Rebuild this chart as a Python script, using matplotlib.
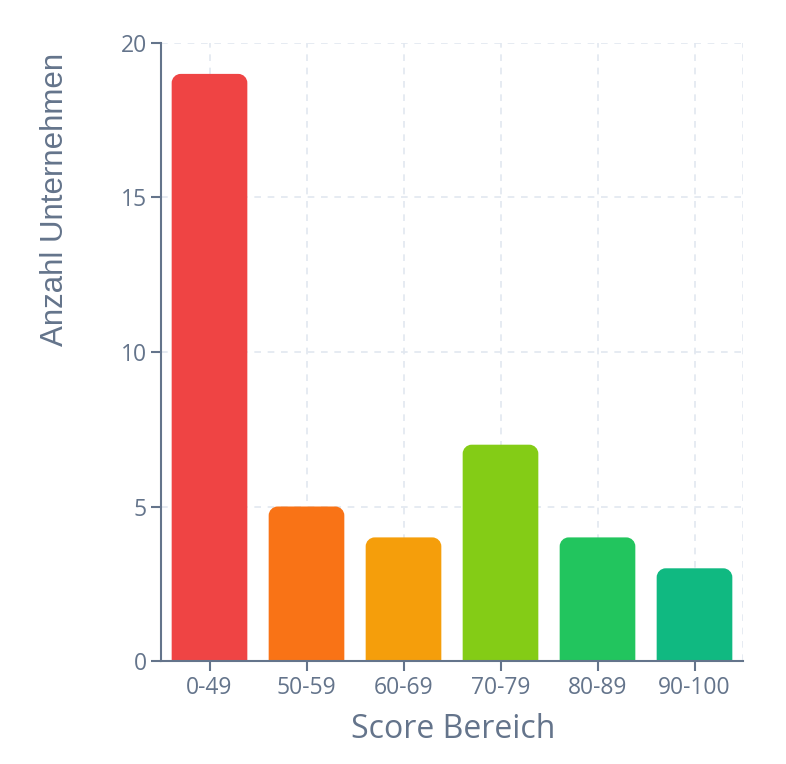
import matplotlib
matplotlib.use("Agg")
import matplotlib.pyplot as plt
from matplotlib.path import Path
from matplotlib.patches import PathPatch

categories = ["0-49", "50-59", "60-69", "70-79", "80-89", "90-100"]
counts = [19, 5, 4, 7, 4, 3]
colors = ["#ef4444", "#f97316", "#f59e0b", "#84cc16", "#22c55e", "#10b981"]
yticks = [0, 5, 10, 15, 20]

axis_col = "#64748b"
grid_col = "#e2e8f0"

W, H = 786, 764
fig = plt.figure(figsize=(W / 100, H / 100), dpi=100)
L, R, T, B = 161, 743, 43, 661
ax = fig.add_axes([L / W, 1 - B / H, (R - L) / W, (B - T) / H])

n = len(categories)
ax.set_xlim(-0.5, n - 0.5)
ax.set_ylim(0, 20)

px_x = (R - L) / n
px_y = (B - T) / 20.0
r_px = 9
bar_w = 0.78

# grid
for y in yticks:
    ax.axhline(y, color=grid_col, lw=1.2, ls=(0, (4, 4)), zorder=0)
for i in range(n):
    ax.axvline(i, color=grid_col, lw=1.2, ls=(0, (4, 4)), zorder=0)
ax.axvline(n - 0.5, color=grid_col, lw=1.2, ls=(0, (4, 4)), zorder=0)

def rounded_bar(x, h, w, color):
    rx = r_px / px_x
    ry = r_px / px_y
    x0, x1 = x - w / 2, x + w / 2
    k = 0.5523
    verts = [
        (x0, 0), (x1, 0), (x1, h - ry),
        (x1, h - ry + k * ry), (x1 - rx + k * rx, h), (x1 - rx, h),
        (x0 + rx, h),
        (x0 + rx - k * rx, h), (x0, h - ry + k * ry), (x0, h - ry),
        (x0, 0),
    ]
    codes = [Path.MOVETO, Path.LINETO, Path.LINETO,
             Path.CURVE4, Path.CURVE4, Path.CURVE4,
             Path.LINETO,
             Path.CURVE4, Path.CURVE4, Path.CURVE4,
             Path.CLOSEPOLY]
    ax.add_patch(PathPatch(Path(verts, codes), facecolor=color, edgecolor="none", zorder=2))

for i, (c, col) in enumerate(zip(counts, colors)):
    rounded_bar(i, c, bar_w, col)

for s in ["top", "right"]:
    ax.spines[s].set_visible(False)
for s in ["left", "bottom"]:
    ax.spines[s].set_color(axis_col)
    ax.spines[s].set_linewidth(1.5)
    ax.spines[s].set_zorder(3)

ax.set_xticks(range(n))
ax.set_xticklabels(categories, fontfamily="Open Sans")
ax.set_yticks(yticks)
ax.set_yticklabels([str(v) for v in yticks], fontfamily="Open Sans")
ax.tick_params(axis="both", colors=axis_col, labelcolor=axis_col, labelsize=16.5,
               length=7, width=1.5, direction="out")
ax.tick_params(axis="x", pad=4)
ax.tick_params(axis="y", pad=3)

fig.text(453 / W, 1 - 730 / H, "Score Bereich", ha="center", va="center",
         fontsize=23, color=axis_col, fontfamily="Open Sans")
fig.text(55 / W, 1 - 199 / H, "Anzahl Unternehmen", ha="center", va="center",
         rotation=90, fontsize=22.5, color=axis_col, fontfamily="Liberation Sans")

fig.savefig("out.png", dpi=100, facecolor="white")
